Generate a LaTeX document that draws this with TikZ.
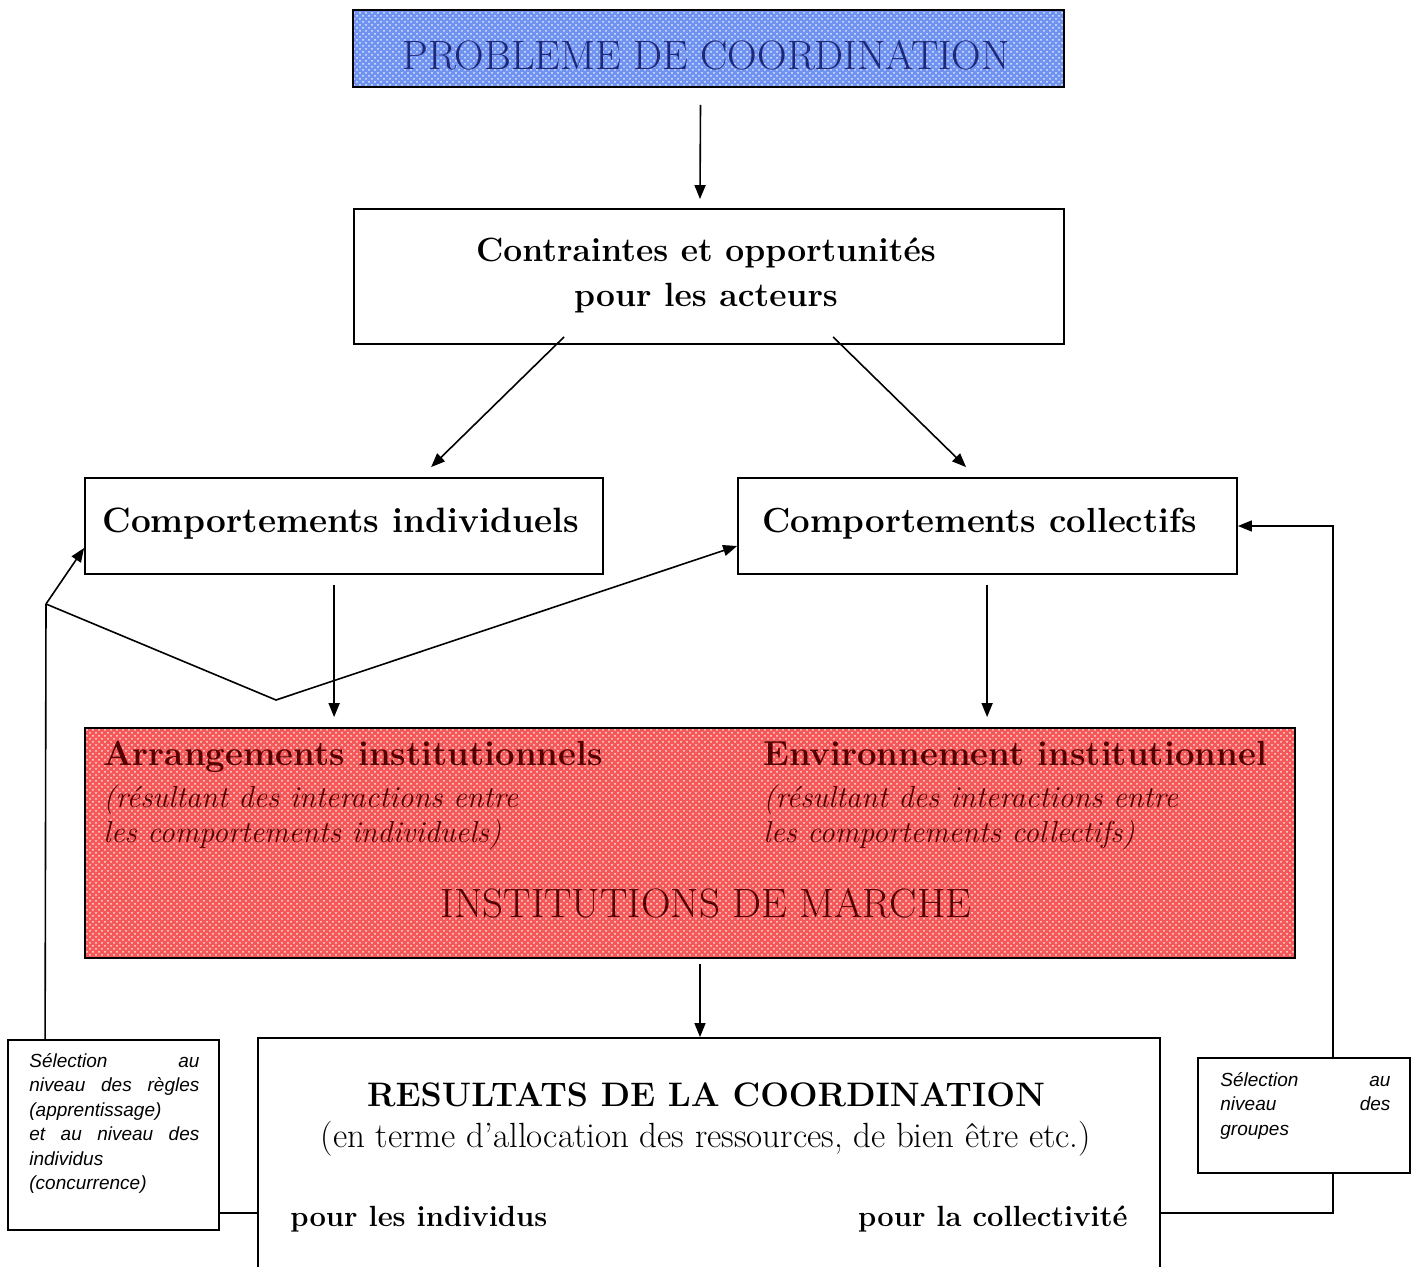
\documentclass[tikz,border=0pt]{standalone}
\usepackage{fontspec}
\newfontfamily\selfont{Liberation Sans}
\usetikzlibrary{arrows.meta,patterns}
\definecolor{probblue}{RGB}{112,146,240}
\definecolor{instred}{RGB}{245,88,88}
\definecolor{titleblue}{RGB}{30,40,120}
\definecolor{instdark}{RGB}{85,0,0}
\newcommand{\jline}[1]{\makebox[85pt][s]{#1}}

\begin{document}
\begin{tikzpicture}[x=0.5pt,y=-0.5pt,
  box/.style={draw,line width=0.9pt,inner sep=0pt},
  texbox/.style={line width=0.9pt,inner sep=0pt,fill=#1,
    postaction={pattern=crosshatch dots,pattern color=white!82!#1},postaction={draw}},
  arr/.style={-{Triangle[length=7pt,width=5.5pt]},line width=0.8pt},
  lnk/.style={line width=0.8pt},
  hd/.style={font=\fontsize{17.4}{22.5}\selectfont\bfseries,inner sep=0pt},
  rm/.style={font=\fontsize{20.5}{24}\selectfont,inner sep=0pt},
  sub/.style={font=\fontsize{15.2}{17.5}\selectfont\itshape,inner sep=0pt,align=left,anchor=north west},
  sel/.style={font=\selfont\itshape\fontsize{9.5}{12.25}\selectfont,align=left,anchor=north west,inner sep=0pt}]
  \useasboundingbox (0,0) rectangle (1420,1267);

  % boxes
  \node[texbox=probblue,minimum width=355.5pt,minimum height=38.5pt] (prob) at (708.5,48.5){};
  \node[box,minimum width=355pt,minimum height=67.5pt] (contr) at (709,276.5){};
  \node[box,minimum width=259pt,minimum height=48pt] (indiv) at (344,526){};
  \node[box,minimum width=249.5pt,minimum height=48pt] (coll) at (987.5,526){};
  \node[texbox=instred,minimum width=605pt,minimum height=115pt] (inst) at (690,843){};
  \node[box,minimum width=451pt,minimum height=126pt] (result) at (709,1164){};
  \node[box,minimum width=105.5pt,minimum height=95pt] (selind) at (113.5,1135){};
  \node[box,minimum width=106pt,minimum height=57.5pt] (selgrp) at (1304,1115.5){};

  % texts
  \node[rm,anchor=base,text=titleblue] (probtxt) at (706,70){PROBLEME DE COORDINATION};
  \node[hd,align=center,font=\fontsize{16.8}{22.5}\selectfont\bfseries] (contrtxt) at (706,275){Contraintes et opportunités\\pour les acteurs};
  \node[hd,anchor=base west,font=\fontsize{17.6}{22.5}\selectfont\bfseries] (indivtxt) at (102,533){Comportements individuels};
  \node[hd,anchor=base west] (colltxt) at (762,533){Comportements collectifs};
  \node[hd,anchor=base west,text=instdark] (arrtxt) at (103,765){Arrangements institutionnels};
  \node[sub,text=instdark] (arrsub) at (103,784){(résultant des interactions entre\\les comportements individuels)};
  \node[hd,anchor=base west,text=instdark] (envtxt) at (763,765){Environnement institutionnel};
  \node[sub,text=instdark] (envsub) at (763,784){(résultant des interactions entre\\les comportements collectifs)};
  \node[rm,anchor=base,text=instdark] (insttxt) at (706,917){INSTITUTIONS DE MARCHE};
  \node[hd,anchor=base,font=\fontsize{17}{22.5}\selectfont\bfseries] (restxt) at (706,1106){RESULTATS DE LA COORDINATION};
  \node[font=\fontsize{17.5}{20}\selectfont,inner sep=0pt,anchor=base] (ressub) at (706,1147){(en terme d’allocation des ressources, de bien être etc.)};
  \node[hd,anchor=base west,font=\fontsize{14.6}{18}\selectfont\bfseries] (pourind) at (290,1226){pour les individus};
  \node[hd,anchor=base east,font=\fontsize{14.6}{18}\selectfont\bfseries] (pourcol) at (1128,1226){pour la collectivité};
  \node[sel] (selindtxt) at (29,1053){\jline{Sélection au}\\\jline{niveau des règles}\\(apprentissage)\\\jline{et au niveau des}\\individus\\(concurrence)};
  \node[sel] (selgrptxt) at (1220,1072){\jline{Sélection au}\\\jline{niveau des}\\groupes};

  % connectors
  \draw[arr] ([xshift=-4pt,yshift=-8.5pt]prob.south) -- ([xshift=-4.5pt,yshift=4.5pt]contr.north);
  \draw[arr] ([xshift=105.5pt,yshift=4pt]contr.south west) -- ([xshift=173.5pt,yshift=5pt]indiv.north west);
  \draw[arr] ([xshift=240pt,yshift=4pt]contr.south west) -- ([xshift=114.5pt,yshift=5pt]coll.north west);
  \draw[arr] ([xshift=125pt,yshift=-5pt]indiv.south west) -- ([xshift=125pt,yshift=5pt]inst.north west);
  \draw[arr] ([xshift=125pt,yshift=-5pt]coll.south west) -- ([xshift=451.5pt,yshift=5pt]inst.north west);
  \draw[arr] ([xshift=5pt,yshift=-2.5pt]inst.south) -- ([xshift=-4.5pt]result.north);

  % feedback, left side
  \coordinate (fork) at (46,604);
  \coordinate (dip) at (276,700);
  \coordinate (lfoot) at ([yshift=9pt]selind.south east);
  \draw[lnk] ([xshift=19pt]selind.north west) -- (fork);
  \draw[arr] (fork) -- ([yshift=-11pt]indiv.west);
  \draw[arr] (fork) -- (dip) -- ([yshift=-10pt]coll.west);
  \draw[lnk] (lfoot) -- (lfoot -| result.west);

  % feedback, right side
  \coordinate (rfoot) at ([xshift=14.5pt,yshift=-19.5pt]selgrp.south);
  \draw[lnk] (rfoot -| result.east) -- (rfoot) -- ([xshift=14.5pt]selgrp.south);
  \draw[arr] ([xshift=14.5pt]selgrp.north) |- (coll.east);
\end{tikzpicture}
\end{document}
